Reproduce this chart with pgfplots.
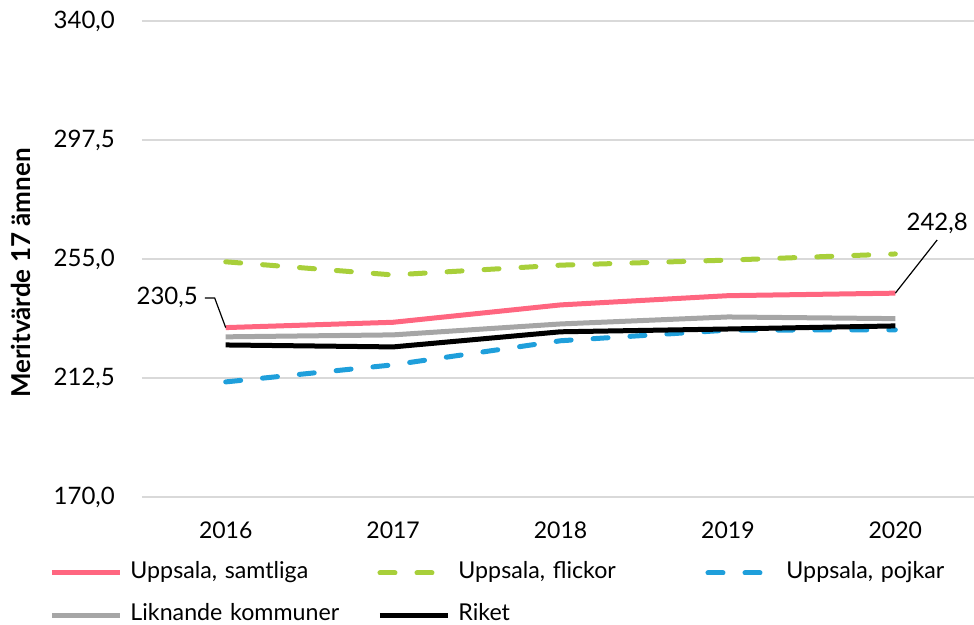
\documentclass[border=0pt]{standalone}
\usepackage{fontspec}
\setmainfont{Lato}
\usepackage{pgfplots}
\pgfplotsset{compat=1.18}
\definecolor{cpink}{HTML}{FF6680}
\definecolor{cgreen}{HTML}{A8CF3A}
\definecolor{cblue}{HTML}{1F9FDB}
\definecolor{cgray}{HTML}{A6A6A6}
\definecolor{cgrid}{HTML}{D9D9D9}
\begin{document}
\begin{tikzpicture}
\begin{axis}[
  name=ax, at={(0,0)}, anchor=south west,
  scale only axis, width=416pt, height=238pt,
  xmin=2015.5, xmax=2020.47, ymin=170, ymax=340,
  axis line style={draw=none},
  ytick={170,212.5,255,297.5,340},
  xtick={2016,2017,2018,2019,2020},
  xticklabels={2016,2017,2018,2019,2020},
  y tick label style={/pgf/number format/fixed, /pgf/number format/fixed zerofill, /pgf/number format/precision=1, /pgf/number format/use comma, xshift=-9pt, font=\fontsize{12}{14}\selectfont},
  /pgf/number format/assume math mode=true,
  x tick label style={yshift=-8pt, font=\fontsize{11.5}{14}\selectfont},
  ymajorgrids, grid style={draw=cgrid, line width=0.7pt},
  major tick length=0pt,
  tick style={draw=none},
  font=\fontsize{11.5}{14}\selectfont,
  line width=2.5pt,
  clip=false,
  legend columns=3,
  legend style={at={(rel axis cs:0,0)}, anchor=north west, xshift=-47.5pt, yshift=-31.5pt,
    draw=none, fill=none, inner sep=0pt, row sep=10.5pt,
    font=\fontsize{11.6}{14}\selectfont,
    nodes={inner xsep=0pt, inner ysep=0pt, text width=123.5pt, text height=8pt, text depth=2.5pt, align=left},
    /tikz/every odd column/.append style={column sep=4pt}},
  legend cell align=left,
  legend image code/.code={\draw[#1] (0pt,0pt) -- (34pt,0pt);},
]
\addplot[cpink, line width=2.5pt] coordinates {(2016,230.5) (2017,232.4) (2018,238.6) (2019,241.9) (2020,242.8)};
\addlegendentry{Uppsala, samtliga}
\addplot[cgreen, line width=2.5pt, line cap=round, dash pattern=on 7.5pt off 11pt] coordinates {(2016,254.0) (2017,249.3) (2018,252.8) (2019,254.6) (2020,256.8)};
\addlegendentry{Uppsala, flickor}
\addplot[cblue, line width=2.5pt, line cap=round, dash pattern=on 7.5pt off 11pt] coordinates {(2016,211.1) (2017,217.2) (2018,225.8) (2019,229.6) (2020,229.7)};
\addlegendentry{Uppsala, pojkar}
\addplot[cgray, line width=2.5pt] coordinates {(2016,227.2) (2017,227.9) (2018,231.8) (2019,234.3) (2020,233.7)};
\addlegendentry{Liknande kommuner}
\addplot[black, line width=2.5pt] coordinates {(2016,224.3) (2017,223.6) (2018,229.0) (2019,230.0) (2020,231.1)};
\addlegendentry{Riket}
\draw[black, line width=0.6pt] (axis cs:2016,230.5) -- (axis cs:2015.934,241.1) -- (axis cs:2015.875,241.1);
\node[anchor=east, inner sep=1pt, font=\fontsize{12}{14}\selectfont] at (axis cs:2015.86,241.1) {230,5};
\draw[black, line width=0.6pt] (axis cs:2020,242.8) -- (axis cs:2020.25,261.8);
\node[anchor=south, inner sep=2pt, font=\fontsize{12}{14}\selectfont] at (axis cs:2020.25,261.8) {242,8};
\end{axis}
\node[rotate=90, font=\fontsize{13}{15}\selectfont\bfseries] at ([xshift=-60.5pt,yshift=-7pt]ax.west) {Meritvärde 17 ämnen};
\pgfresetboundingbox
\useasboundingbox ([xshift=-71pt,yshift=-64pt]ax.south west) rectangle ([yshift=10.5pt]ax.north east);
\end{tikzpicture}
\end{document}
